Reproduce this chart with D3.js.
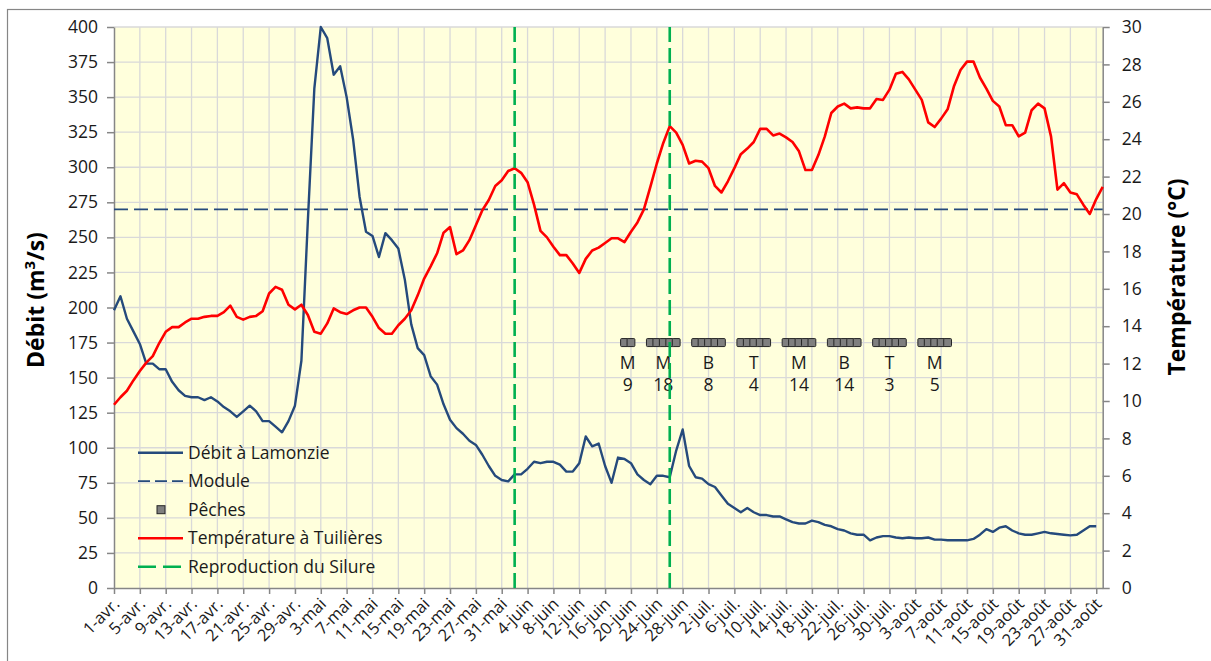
<!DOCTYPE html>
<html lang="fr">
<head>
<meta charset="utf-8">
<script src="https://cdn.jsdelivr.net/npm/d3@7"></script>
<style>
  html, body { margin: 0; padding: 0; background: #fff; }
  svg { display: block; font-family: "Open Sans", Lato, sans-serif; }
</style>
</head>
<body>
<svg id="chart" width="1211" height="661"></svg>
<script>
// --- Données (jour 0 = 1-avr., jour 152 = 31-août) ---
const tickDays = [0, 4, 8, 12, 16, 20, 24, 28, 32, 36, 40, 44, 48, 52, 56, 60, 64, 68, 72, 76,
  80, 84, 88, 92, 96, 100, 104, 108, 112, 116, 120, 124, 128, 132, 136, 140, 144, 148, 152];
const tickLabels = ['1-avr.', '5-avr.', '9-avr.', '13-avr.', '17-avr.', '21-avr.', '25-avr.', '29-avr.',
  '3-mai', '7-mai', '11-mai', '15-mai', '19-mai', '23-mai', '27-mai', '31-mai',
  '4-juin', '8-juin', '12-juin', '16-juin', '20-juin', '24-juin', '28-juin',
  '2-juil.', '6-juil.', '10-juil.', '14-juil.', '18-juil.', '22-juil.', '26-juil.', '30-juil.',
  '3-août', '7-août', '11-août', '15-août', '19-août', '23-août', '27-août', '31-août'];

// Débit à Lamonzie (m3/s)
const debit = [
  198, 208, 192, 183, 174, 160, 160, 156, 156, 147,
  141, 137, 136, 136, 134, 136, 133, 129, 126, 122,
  126, 130, 126, 119, 119, 115, 111, 119, 130, 162,
  262, 356, 400, 392, 366, 372, 350, 320, 279, 254,
  251, 236, 253, 248, 242, 220, 188, 171, 166, 151,
  145, 131, 120, 114, 110, 105, 102, 95, 87, 80,
  77, 76, 81, 81, 85, 90, 89, 90, 90, 88,
  83, 83, 89, 108, 101, 103, 87, 75, 93, 92,
  89, 81, 77, 74, 80, 80, 79, 98, 113, 87,
  79, 78, 74, 72, 66, 60, 57, 54, 57, 54,
  52, 52, 51, 51, 49, 47, 46, 46, 48, 47,
  45, 44, 42, 41, 39, 38, 38, 34, 36, 37,
  37, 36, 35.5, 36, 35.5, 35.5, 36, 34.5, 34.5, 34,
  34, 34, 34, 35, 38, 42, 40, 43, 44, 41,
  39, 38, 38, 39, 40, 39, 38.5, 38, 37.5, 38,
  41, 44, 44
];

// Température à Tuilières (°C)
const temperature = [
  9.8, 10.2, 10.55, 11.1, 11.6, 12.05, 12.4, 13.1, 13.7, 13.95,
  13.95, 14.2, 14.4, 14.4, 14.5, 14.55, 14.55, 14.75, 15.1, 14.5,
  14.35, 14.5, 14.55, 14.8, 15.75, 16.1, 15.95, 15.15, 14.9, 15.15,
  14.6, 13.7, 13.6, 14.15, 14.95, 14.75, 14.65, 14.85, 15.0, 15.0,
  14.5, 13.9, 13.6, 13.6, 14.05, 14.4, 14.85, 15.65, 16.55, 17.2,
  17.9, 19.0, 19.3, 17.85, 18.05, 18.6, 19.4, 20.2, 20.75, 21.5,
  21.8, 22.3, 22.45, 22.2, 21.7, 20.5, 19.1, 18.75, 18.25, 17.8,
  17.8, 17.35, 16.85, 17.6, 18.05, 18.2, 18.45, 18.7, 18.7, 18.5,
  19.05, 19.55, 20.25, 21.45, 22.7, 23.8, 24.7, 24.35, 23.7, 22.7,
  22.85, 22.8, 22.45, 21.5, 21.15, 21.75, 22.45, 23.2, 23.5, 23.85,
  24.55, 24.55, 24.2, 24.3, 24.1, 23.85, 23.35, 22.35, 22.35, 23.15,
  24.15, 25.4, 25.75, 25.9, 25.65, 25.7, 25.65, 25.65, 26.15, 26.1,
  26.65, 27.5, 27.6, 27.2, 26.65, 26.1, 24.9, 24.65, 25.1, 25.6,
  26.85, 27.7, 28.15, 28.15, 27.3, 26.7, 26.05, 25.75, 24.75, 24.75,
  24.15, 24.35, 25.55, 25.9, 25.65, 24.15, 21.3, 21.65, 21.15, 21.05,
  20.5, 20.0, 20.8, 21.45
];

const moduleDebit = 270;
const reproductionDays = [62, 86];

// Pêches : premier jour, nombre de jours, espèce, effectif
const pecheStart = [79, 83, 90, 97, 104, 111, 118, 125];
const pecheCount = [2, 5, 5, 5, 5, 5, 5, 5];
const pecheEspece = ['M', 'M', 'B', 'T', 'M', 'B', 'T', 'M'];
const pecheNombre = [9, 18, 8, 4, 14, 14, 3, 5];
const pecheNiveau = 175;

const leftTicks = d3.range(0, 401, 25);
const rightTicks = d3.range(0, 31, 2);

// --- Mise en page ---
const plot = { left: 114, right: 1102.7, top: 27, bottom: 588 };
const BLUE = '#254a7c';
const RED = '#ff0000';
const GREEN = '#00b050';
const GRID = '#d9d9d9';
const AXIS = '#868686';
const FONT = '"Open Sans", Lato, sans-serif';
const FONT_SIZE = '17.5px';

const svg = d3.select('#chart');

const x = d3.scaleLinear().domain([0, 153]).range([plot.left, plot.right]);
const yLeft = d3.scaleLinear().domain([0, 400]).range([plot.bottom, plot.top]);
const yRight = d3.scaleLinear().domain([0, 30]).range([plot.bottom, plot.top]);

// cadre du graphique
svg.append('rect')
  .attr('x', 7.5).attr('y', 9.5)
  .attr('width', 1215).attr('height', 665)
  .attr('fill', '#fff').attr('stroke', AXIS).attr('stroke-width', 1.2);

// fond de la zone de tracé
svg.append('rect')
  .attr('x', plot.left).attr('y', plot.top)
  .attr('width', plot.right - plot.left).attr('height', plot.bottom - plot.top)
  .attr('fill', '#ffffdc');

// quadrillage
const grid = svg.append('g').attr('stroke', GRID).attr('stroke-width', 1.3);
grid.selectAll('line.h').data(leftTicks.filter(d => d > 0)).join('line')
  .attr('x1', plot.left).attr('x2', plot.right)
  .attr('y1', d => yLeft(d)).attr('y2', d => yLeft(d));
grid.selectAll('line.v').data(tickDays.filter(d => d > 0)).join('line')
  .attr('y1', plot.top).attr('y2', plot.bottom)
  .attr('x1', d => x(d)).attr('x2', d => x(d));

// axes
function styleAxis(g) {
  g.select('.domain').attr('stroke', AXIS).attr('stroke-width', 1.5);
  g.selectAll('.tick line').attr('stroke', AXIS).attr('stroke-width', 1.5);
  g.selectAll('.tick text').attr('fill', '#1a1a1a').style('font-size', FONT_SIZE)
    .style('font-family', FONT);
}

svg.append('g')
  .attr('transform', `translate(${plot.left},0)`)
  .call(d3.axisLeft(yLeft).tickValues(leftTicks).tickSize(7).tickPadding(9).tickSizeOuter(0))
  .call(styleAxis);

svg.append('g')
  .attr('transform', `translate(${plot.right},0)`)
  .call(d3.axisRight(yRight).tickValues(rightTicks).tickSize(7).tickPadding(12).tickSizeOuter(0))
  .call(styleAxis);

const xAxis = svg.append('g')
  .attr('transform', `translate(0,${plot.bottom})`)
  .call(d3.axisBottom(x).tickValues(tickDays).tickSize(6).tickSizeOuter(0)
    .tickFormat((d, i) => tickLabels[i]))
  .call(styleAxis);
xAxis.selectAll('.tick text')
  .attr('y', 0).attr('dy', 0)
  .attr('text-anchor', 'end')
  .attr('transform', 'translate(6,17) rotate(-45)')
  .style('font-size', '16.5px');

// titres des axes
svg.append('text')
  .attr('transform', 'translate(44,300) rotate(-90)')
  .attr('text-anchor', 'middle')
  .style('font-size', '23px').style('font-weight', 'bold')
  .html('Débit (m<tspan dy="-9" font-size="15">3</tspan><tspan dy="9">/s)</tspan>');

svg.append('text')
  .attr('transform', 'translate(1185,277) rotate(-90)')
  .attr('text-anchor', 'middle')
  .style('font-size', '23px').style('font-weight', 'bold')
  .text('Température (°C)');

// débit
const lineDebit = d3.line().x((d, i) => x(i)).y(d => yLeft(d));
svg.append('path')
  .datum(debit)
  .attr('d', lineDebit)
  .attr('fill', 'none').attr('stroke', BLUE).attr('stroke-width', 2.4)
  .attr('stroke-linejoin', 'round');

// module
svg.append('line')
  .attr('x1', plot.left).attr('x2', plot.right)
  .attr('y1', yLeft(moduleDebit)).attr('y2', yLeft(moduleDebit))
  .attr('stroke', BLUE).attr('stroke-width', 1.7).attr('stroke-dasharray', '14,6');

// pêches
const pecheGroups = svg.append('g');
pecheStart.forEach((start, k) => {
  const days = d3.range(start, start + pecheCount[k]);
  pecheGroups.selectAll(null).data(days).join('rect')
    .attr('x', d => x(d) - 3.9).attr('y', yLeft(pecheNiveau) - 4)
    .attr('width', 7.8).attr('height', 8)
    .attr('rx', 1)
    .attr('fill', '#7f7f7f').attr('stroke', '#262626').attr('stroke-width', 1);
  const cx = x(start + (pecheCount[k] - 1) / 2);
  pecheGroups.append('text')
    .attr('x', cx).attr('y', yLeft(pecheNiveau) + 26)
    .attr('text-anchor', 'middle').style('font-size', FONT_SIZE).attr('fill', '#1a1a1a')
    .text(pecheEspece[k]);
  pecheGroups.append('text')
    .attr('x', cx).attr('y', yLeft(pecheNiveau) + 48)
    .attr('text-anchor', 'middle').style('font-size', FONT_SIZE).attr('fill', '#1a1a1a')
    .text(pecheNombre[k]);
});

// température
const lineTemp = d3.line().x((d, i) => x(i)).y(d => yRight(d));
svg.append('path')
  .datum(temperature)
  .attr('d', lineTemp)
  .attr('fill', 'none').attr('stroke', RED).attr('stroke-width', 2.6)
  .attr('stroke-linejoin', 'round');

// reproduction du silure
svg.selectAll('line.repro').data(reproductionDays).join('line')
  .attr('class', 'repro')
  .attr('x1', d => x(d)).attr('x2', d => x(d))
  .attr('y1', plot.top).attr('y2', plot.bottom)
  .attr('stroke', GREEN).attr('stroke-width', 2.6).attr('stroke-dasharray', '15,6');

// légende
const legendItems = [
  { label: 'Débit à Lamonzie', type: 'line', color: BLUE, dash: null, w: 2.4 },
  { label: 'Module', type: 'line', color: BLUE, dash: '12,5', w: 1.7 },
  { label: 'Pêches', type: 'square' },
  { label: 'Température à Tuilières', type: 'line', color: RED, dash: null, w: 2.6 },
  { label: 'Reproduction du Silure', type: 'line', color: GREEN, dash: '18,7', w: 2.6 }
];
const legend = svg.append('g');
legendItems.forEach((item, i) => {
  const ly = 452.7 + i * 28.5;
  if (item.type === 'line') {
    legend.append('line')
      .attr('x1', 138).attr('x2', 183).attr('y1', ly).attr('y2', ly)
      .attr('stroke', item.color).attr('stroke-width', item.w)
      .attr('stroke-dasharray', item.dash);
  } else {
    legend.append('rect')
      .attr('x', 157).attr('y', ly - 4).attr('width', 8).attr('height', 8)
      .attr('fill', '#7f7f7f').attr('stroke', '#262626');
  }
  legend.append('text')
    .attr('x', 188).attr('y', ly).attr('dy', '0.35em')
    .style('font-size', FONT_SIZE).attr('fill', '#1a1a1a')
    .text(item.label);
});
</script>
</body>
</html>
